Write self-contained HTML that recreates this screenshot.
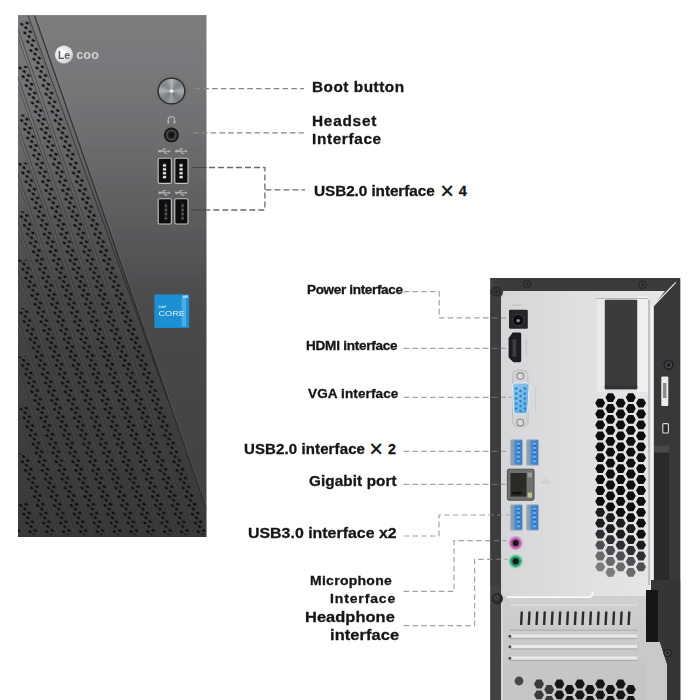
<!DOCTYPE html>
<html lang="en"><head><meta charset="utf-8"><title>Interfaces</title>
<style>
html,body{margin:0;padding:0;background:#fff;}
body{width:700px;height:700px;position:relative;overflow:hidden;font-family:"Liberation Sans","DejaVu Sans",sans-serif;}
svg{position:absolute;left:0;top:0;}
.lb{position:absolute;white-space:nowrap;font-weight:700;color:#161616;line-height:1;transform-origin:0 0;-webkit-text-stroke:0.3px #161616;}
.r{text-align:right;}
#boot{position:absolute;left:159.1px;top:78.7px;width:24.6px;height:24.6px;border-radius:50%;
 background:conic-gradient(from 0deg,#b2b5b7,#8a8d90 28deg,#7f8285 55deg,#a9acae 90deg,#84878a 125deg,#7b7e81 150deg,#9b9ea0 180deg,#7e8184 215deg,#868a8d 240deg,#aeb1b3 272deg,#84878a 305deg,#8f9295 335deg,#b2b5b7);
 box-shadow:0 0 0 1.6px #303234, 0 0 2px 2.4px rgba(98,99,101,.5);}
#boot i{position:absolute;left:10.1px;top:10.1px;width:4.4px;height:4.4px;border-radius:50%;background:radial-gradient(#f2f5f6 20%,#c9cdd0 60%,rgba(150,153,156,0) 100%);}
</style></head><body>
<svg width="700" height="700" viewBox="0 0 700 700">
<defs>
<filter id="soft" filterUnits="userSpaceOnUse" x="0" y="0" width="700" height="700"><feGaussianBlur stdDeviation="0.45" edgeMode="duplicate"/></filter>
<linearGradient id="fp" x1="0" y1="0" x2="0" y2="1">
 <stop offset="0" stop-color="#7b7c7e"/><stop offset=".12" stop-color="#77787a"/><stop offset=".26" stop-color="#6a6b6d"/><stop offset=".41" stop-color="#5a5a5c"/><stop offset=".53" stop-color="#4d4d4e"/><stop offset=".65" stop-color="#474748"/><stop offset="1" stop-color="#404041"/>
</linearGradient>
<linearGradient id="fps" x1="0" y1="0" x2="0" y2="1">
 <stop offset="0" stop-color="#000" stop-opacity="0.02"/><stop offset="1" stop-color="#000" stop-opacity="0.11"/>
</linearGradient>
<pattern id="dots0" width="16.85" height="8.75" patternUnits="userSpaceOnUse" patternTransform="matrix(1 0 0.3480 1 13.38 0)">
 <rect x="7.9" y="0" width="1.0" height="8.75" fill="#1b1b1d" fill-opacity="0.55"/>
 <rect x="8.9" y="0" width="1.9" height="8.75" fill="#fff" fill-opacity="0.060"/>
 <rect x="10.8" y="0" width="1.0" height="8.75" fill="#1b1b1d" fill-opacity="0.50"/>
 <circle cx="0.00" cy="6.85" r="1.55" fill="#0f0f10"/><circle cx="2.90" cy="1.60" r="1.55" fill="#0f0f10"/><circle cx="2.90" cy="10.35" r="1.55" fill="#0f0f10"/><circle cx="5.80" cy="5.40" r="1.55" fill="#0f0f10"/><circle cx="5.80" cy="-3.35" r="1.55" fill="#0f0f10"/><circle cx="16.85" cy="6.85" r="1.55" fill="#0f0f10"/>
</pattern>
<pattern id="dots1" width="16.85" height="8.75" patternUnits="userSpaceOnUse" patternTransform="matrix(1 0 0.3480 1 13.38 0)">
 <rect x="7.9" y="0" width="1.0" height="8.75" fill="#1b1b1d" fill-opacity="0.51"/>
 <rect x="8.9" y="0" width="1.9" height="8.75" fill="#fff" fill-opacity="0.054"/>
 <rect x="10.8" y="0" width="1.0" height="8.75" fill="#1b1b1d" fill-opacity="0.45"/>
 <circle cx="0.00" cy="6.85" r="1.55" fill="#0f0f10"/><circle cx="2.90" cy="1.60" r="1.55" fill="#0f0f10"/><circle cx="2.90" cy="10.35" r="1.55" fill="#0f0f10"/><circle cx="5.80" cy="5.40" r="1.55" fill="#0f0f10"/><circle cx="5.80" cy="-3.35" r="1.55" fill="#0f0f10"/><circle cx="16.85" cy="6.85" r="1.55" fill="#0f0f10"/>
</pattern>
<pattern id="dots2" width="16.85" height="8.75" patternUnits="userSpaceOnUse" patternTransform="matrix(1 0 0.3480 1 13.38 0)">
 <rect x="7.9" y="0" width="1.0" height="8.75" fill="#1b1b1d" fill-opacity="0.46"/>
 <rect x="8.9" y="0" width="1.9" height="8.75" fill="#fff" fill-opacity="0.048"/>
 <rect x="10.8" y="0" width="1.0" height="8.75" fill="#1b1b1d" fill-opacity="0.41"/>
 <circle cx="0.00" cy="6.85" r="1.55" fill="#0f0f10"/><circle cx="2.90" cy="1.60" r="1.55" fill="#0f0f10"/><circle cx="2.90" cy="10.35" r="1.55" fill="#0f0f10"/><circle cx="5.80" cy="5.40" r="1.55" fill="#0f0f10"/><circle cx="5.80" cy="-3.35" r="1.55" fill="#0f0f10"/><circle cx="16.85" cy="6.85" r="1.55" fill="#0f0f10"/>
</pattern>
<pattern id="dots3" width="16.85" height="8.75" patternUnits="userSpaceOnUse" patternTransform="matrix(1 0 0.3480 1 13.38 0)">
 <rect x="7.9" y="0" width="1.0" height="8.75" fill="#1b1b1d" fill-opacity="0.42"/>
 <rect x="8.9" y="0" width="1.9" height="8.75" fill="#fff" fill-opacity="0.042"/>
 <rect x="10.8" y="0" width="1.0" height="8.75" fill="#1b1b1d" fill-opacity="0.37"/>
 <circle cx="0.00" cy="6.85" r="1.55" fill="#0f0f10"/><circle cx="2.90" cy="1.60" r="1.55" fill="#0f0f10"/><circle cx="2.90" cy="10.35" r="1.55" fill="#0f0f10"/><circle cx="5.80" cy="5.40" r="1.55" fill="#0f0f10"/><circle cx="5.80" cy="-3.35" r="1.55" fill="#0f0f10"/><circle cx="16.85" cy="6.85" r="1.55" fill="#0f0f10"/>
</pattern>
<pattern id="dots4" width="16.85" height="8.75" patternUnits="userSpaceOnUse" patternTransform="matrix(1 0 0.3480 1 13.38 0)">
 <rect x="7.9" y="0" width="1.0" height="8.75" fill="#1b1b1d" fill-opacity="0.37"/>
 <rect x="8.9" y="0" width="1.9" height="8.75" fill="#fff" fill-opacity="0.036"/>
 <rect x="10.8" y="0" width="1.0" height="8.75" fill="#1b1b1d" fill-opacity="0.33"/>
 <circle cx="0.00" cy="6.85" r="1.55" fill="#0f0f10"/><circle cx="2.90" cy="1.60" r="1.55" fill="#0f0f10"/><circle cx="2.90" cy="10.35" r="1.55" fill="#0f0f10"/><circle cx="5.80" cy="5.40" r="1.55" fill="#0f0f10"/><circle cx="5.80" cy="-3.35" r="1.55" fill="#0f0f10"/><circle cx="16.85" cy="6.85" r="1.55" fill="#0f0f10"/>
</pattern>
<pattern id="dots5" width="16.85" height="8.75" patternUnits="userSpaceOnUse" patternTransform="matrix(1 0 0.3480 1 13.38 0)">
 <rect x="7.9" y="0" width="1.0" height="8.75" fill="#1b1b1d" fill-opacity="0.33"/>
 <rect x="8.9" y="0" width="1.9" height="8.75" fill="#fff" fill-opacity="0.030"/>
 <rect x="10.8" y="0" width="1.0" height="8.75" fill="#1b1b1d" fill-opacity="0.29"/>
 <circle cx="0.00" cy="6.85" r="1.55" fill="#0f0f10"/><circle cx="2.90" cy="1.60" r="1.55" fill="#0f0f10"/><circle cx="2.90" cy="10.35" r="1.55" fill="#0f0f10"/><circle cx="5.80" cy="5.40" r="1.55" fill="#0f0f10"/><circle cx="5.80" cy="-3.35" r="1.55" fill="#0f0f10"/><circle cx="16.85" cy="6.85" r="1.55" fill="#0f0f10"/>
</pattern>
<pattern id="dots6" width="16.85" height="8.75" patternUnits="userSpaceOnUse" patternTransform="matrix(1 0 0.3480 1 13.38 0)">
 <rect x="7.9" y="0" width="1.0" height="8.75" fill="#1b1b1d" fill-opacity="0.28"/>
 <rect x="8.9" y="0" width="1.9" height="8.75" fill="#fff" fill-opacity="0.024"/>
 <rect x="10.8" y="0" width="1.0" height="8.75" fill="#1b1b1d" fill-opacity="0.25"/>
 <circle cx="0.00" cy="6.85" r="1.55" fill="#0f0f10"/><circle cx="2.90" cy="1.60" r="1.55" fill="#0f0f10"/><circle cx="2.90" cy="10.35" r="1.55" fill="#0f0f10"/><circle cx="5.80" cy="5.40" r="1.55" fill="#0f0f10"/><circle cx="5.80" cy="-3.35" r="1.55" fill="#0f0f10"/><circle cx="16.85" cy="6.85" r="1.55" fill="#0f0f10"/>
</pattern>
<pattern id="dots7" width="16.85" height="8.75" patternUnits="userSpaceOnUse" patternTransform="matrix(1 0 0.3480 1 13.38 0)">
 <rect x="7.9" y="0" width="1.0" height="8.75" fill="#1b1b1d" fill-opacity="0.24"/>
 <rect x="8.9" y="0" width="1.9" height="8.75" fill="#fff" fill-opacity="0.018"/>
 <rect x="10.8" y="0" width="1.0" height="8.75" fill="#1b1b1d" fill-opacity="0.21"/>
 <circle cx="0.00" cy="6.85" r="1.55" fill="#0f0f10"/><circle cx="2.90" cy="1.60" r="1.55" fill="#0f0f10"/><circle cx="2.90" cy="10.35" r="1.55" fill="#0f0f10"/><circle cx="5.80" cy="5.40" r="1.55" fill="#0f0f10"/><circle cx="5.80" cy="-3.35" r="1.55" fill="#0f0f10"/><circle cx="16.85" cy="6.85" r="1.55" fill="#0f0f10"/>
</pattern>

<clipPath id="stripeclip"><path clip-rule="evenodd" d="M18,20.5 L28.7,20.5 L35.5,40.0 L44.2,65.0 L52.9,90.0 L61.6,115.0 L70.3,140.0 L79.0,165.0 L87.7,190.0 L96.4,215.0 L105.1,240.0 L113.8,265.0 L122.5,290.0 L131.2,315.0 L139.9,340.0 L148.6,365.0 L157.3,390.0 L166.0,415.0 L174.7,440.0 L183.4,465.0 L192.1,490.0 L198.8,509.3 L206.5,535 L18,535Z M18,38.0 L18,66.0 L27.8,66.0Z M18,86.4 L18,114.4 L27.8,114.4Z M18,134.8 L18,162.8 L27.8,162.8Z M18,183.3 L18,211.3 L27.8,211.3Z M18,231.7 L18,259.7 L27.8,259.7Z M18,280.1 L18,308.1 L27.8,308.1Z M18,328.5 L18,356.5 L27.8,356.5Z M18,376.9 L18,404.9 L27.8,404.9Z M18,425.4 L18,453.4 L27.8,453.4Z M18,473.8 L18,501.8 L27.8,501.8Z"/></clipPath><clipPath id="panelclip"><rect x="18" y="15" width="188.5" height="522"/></clipPath><clipPath id="stripeclip2"><polygon points="18,15 34.4,15.0 43.1,40.0 51.8,65.0 60.5,90.0 69.2,115.0 77.9,140.0 86.6,165.0 95.3,190.0 104.0,215.0 112.7,240.0 121.4,265.0 130.1,290.0 138.8,315.0 147.5,340.0 156.2,365.0 164.9,390.0 173.6,415.0 182.3,440.0 191.0,465.0 199.7,490.0 206.4,509.3 206.5,537 18,537"/></clipPath>
<radialGradient id="logo" cx=".4" cy=".4" r=".7"><stop offset="0" stop-color="#fff"/><stop offset=".7" stop-color="#dcdcdc"/><stop offset="1" stop-color="#b4b4b4"/></radialGradient>
<linearGradient id="plate" x1="0" y1="0" x2="1" y2="0"><stop offset="0" stop-color="#d6d6d8"/><stop offset=".5" stop-color="#e0e0e2"/><stop offset="1" stop-color="#e6e6e8"/></linearGradient>
<linearGradient id="lower" x1="0" y1="0" x2="0" y2="1"><stop offset="0" stop-color="#cfcfd1"/><stop offset="1" stop-color="#c4c4c6"/></linearGradient>
<linearGradient id="usb3" x1="0" y1="0" x2="1" y2="0"><stop offset="0" stop-color="#93a4b4"/><stop offset=".28" stop-color="#7f9db8"/><stop offset=".42" stop-color="#3f86d2"/><stop offset="1" stop-color="#3a7cc6"/></linearGradient>
<linearGradient id="vga" x1="0" y1="0" x2="1" y2="1"><stop offset="0" stop-color="#8ecaf0"/><stop offset="1" stop-color="#5ea9e0"/></linearGradient>
</defs>

<g filter="url(#soft)">
<rect x="18" y="15" width="188.5" height="522" fill="url(#fp)"/>
<rect x="18" y="15" width="188.5" height="522" fill="url(#fps)" clip-path="url(#stripeclip2)"/>
<g clip-path="url(#stripeclip)">
<rect x="18" y="15" width="188.5" height="65" fill="url(#dots0)"/>
<rect x="18" y="80" width="188.5" height="70" fill="url(#dots1)"/>
<rect x="18" y="150" width="188.5" height="70" fill="url(#dots2)"/>
<rect x="18" y="220" width="188.5" height="70" fill="url(#dots3)"/>
<rect x="18" y="290" width="188.5" height="70" fill="url(#dots4)"/>
<rect x="18" y="360" width="188.5" height="70" fill="url(#dots5)"/>
<rect x="18" y="430" width="188.5" height="70" fill="url(#dots6)"/>
<rect x="18" y="500" width="188.5" height="35" fill="url(#dots7)"/>

</g>
<path d="M27.9 15L167.9 400" fill="none" stroke="#222224" stroke-width="1.1" stroke-opacity=".6"/>
<g clip-path="url(#panelclip)">
<path d="M34.4 15.0 L43.1 40.0 L51.8 65.0 L60.5 90.0 L69.2 115.0 L77.9 140.0 L86.6 165.0 L95.3 190.0 L104.0 215.0 L112.7 240.0 L121.4 265.0 L130.1 290.0 L138.8 315.0 L147.5 340.0 L156.2 365.0 L164.9 390.0 L173.6 415.0 L182.3 440.0 L191.0 465.0 L199.7 490.0 L206.4 509.3" fill="none" stroke="#29292b" stroke-width="1.4" stroke-opacity=".8"/>
<path d="M34.4 15.0 L43.1 40.0 L51.8 65.0 L60.5 90.0 L69.2 115.0 L77.9 140.0 L86.6 165.0 L95.3 190.0 L104.0 215.0 L112.7 240.0 L121.4 265.0 L130.1 290.0 L138.8 315.0 L147.5 340.0 L156.2 365.0 L164.9 390.0 L173.6 415.0 L182.3 440.0 L191.0 465.0 L199.7 490.0 L206.4 509.3" fill="none" stroke="#fff" stroke-width="0.9" stroke-opacity=".08" transform="translate(1.4 0)"/>
</g>
<rect x="18" y="15" width="188.5" height="1" fill="#8a8b8d" fill-opacity=".5"/>
<rect x="18" y="536" width="188.5" height="1" fill="#2c2c2e" fill-opacity=".35"/>
<circle cx="64" cy="54.6" r="9.1" fill="url(#logo)"/>
<text x="58.0" y="58.6" font-family="Liberation Sans, sans-serif" font-weight="700" font-size="10.5" fill="#5c5d60" letter-spacing="-0.2">Le</text>
<text x="76.2" y="59.2" font-family="Liberation Sans, sans-serif" font-weight="700" font-size="12.8" fill="#d2d2d4" letter-spacing="0.1" textLength="22.8" lengthAdjust="spacingAndGlyphs">coo</text>
<path d="M168.2 122.4v-2.6a3.2 3.2 0 0 1 6.4 0v2.6" fill="none" stroke="#b2b3b5" stroke-width="1.1"/>
<rect x="167.4" y="120.6" width="1.8" height="3" rx=".6" fill="#b2b3b5"/><rect x="173.6" y="120.6" width="1.8" height="3" rx=".6" fill="#b2b3b5"/>
<circle cx="171.4" cy="135" r="7.6" fill="#1c1c1e"/>
<circle cx="171.4" cy="135" r="4.6" fill="#242426" stroke="#5a5a5d" stroke-width="1.2"/>
<circle cx="171.4" cy="135" r="2" fill="#0c0c0d"/>
<g stroke="#b8b9bb" stroke-width="1.1" fill="#b8b9bb" stroke-opacity=".9" fill-opacity=".9"><line x1="159.5" y1="151.2" x2="168.9" y2="151.2"/><circle cx="159.7" cy="151.2" r="1.4" stroke="none"/><path d="M161.7 151.2 l2.2 -2.3 h2 M163.5 151.2 l2.2 2.3 h1.8" fill="none"/><path d="M170.9 151.2 l-2.4 -1.5 v3z" stroke="none"/></g>
<g stroke="#b8b9bb" stroke-width="1.1" fill="#b8b9bb" stroke-opacity=".9" fill-opacity=".9"><line x1="176.2" y1="151.2" x2="185.6" y2="151.2"/><circle cx="176.4" cy="151.2" r="1.4" stroke="none"/><path d="M178.4 151.2 l2.2 -2.3 h2 M180.2 151.2 l2.2 2.3 h1.8" fill="none"/><path d="M187.6 151.2 l-2.4 -1.5 v3z" stroke="none"/></g>
<g stroke="#b8b9bb" stroke-width="1.1" fill="#b8b9bb" stroke-opacity=".9" fill-opacity=".9"><line x1="159.5" y1="192.8" x2="168.9" y2="192.8"/><circle cx="159.7" cy="192.8" r="1.4" stroke="none"/><path d="M161.7 192.8 l2.2 -2.3 h2 M163.5 192.8 l2.2 2.3 h1.8" fill="none"/><path d="M170.9 192.8 l-2.4 -1.5 v3z" stroke="none"/></g>
<g stroke="#b8b9bb" stroke-width="1.1" fill="#b8b9bb" stroke-opacity=".9" fill-opacity=".9"><line x1="176.2" y1="192.8" x2="185.6" y2="192.8"/><circle cx="176.4" cy="192.8" r="1.4" stroke="none"/><path d="M178.4 192.8 l2.2 -2.3 h2 M180.2 192.8 l2.2 2.3 h1.8" fill="none"/><path d="M187.6 192.8 l-2.4 -1.5 v3z" stroke="none"/></g>
<rect x="158.2" y="158.2" width="13.2" height="25.2" rx="1.4" fill="#0d0d0f" stroke="#c2c3c5" stroke-width="1.1"/><rect x="162.8" y="162.7" width="3.4" height="16.2" fill="#2e2e31"/><rect x="162.9" y="164.4" width="3.2" height="2.1" fill="#e8e8ea"/><rect x="162.9" y="168.3" width="3.2" height="2.1" fill="#e8e8ea"/><rect x="162.9" y="172.2" width="3.2" height="2.1" fill="#e8e8ea"/><rect x="162.9" y="176.1" width="3.2" height="2.1" fill="#e8e8ea"/>
<rect x="174.8" y="158.2" width="13.2" height="25.2" rx="1.4" fill="#0d0d0f" stroke="#c2c3c5" stroke-width="1.1"/><rect x="179.4" y="162.7" width="3.4" height="16.2" fill="#2e2e31"/><rect x="179.5" y="164.4" width="3.2" height="2.1" fill="#e8e8ea"/><rect x="179.5" y="168.3" width="3.2" height="2.1" fill="#e8e8ea"/><rect x="179.5" y="172.2" width="3.2" height="2.1" fill="#e8e8ea"/><rect x="179.5" y="176.1" width="3.2" height="2.1" fill="#e8e8ea"/>
<rect x="158.2" y="198.8" width="13.2" height="25.2" rx="1.4" fill="#0d0d0f" stroke="#c2c3c5" stroke-width="1.1"/><rect x="164.6" y="202.8" width="2.6" height="17.2" fill="#2a2a2d"/><rect x="164.6" y="205.2" width="2.6" height="1.2" fill="#6a6a6d"/><rect x="164.6" y="209.4" width="2.6" height="1.2" fill="#6a6a6d"/><rect x="164.6" y="213.6" width="2.6" height="1.2" fill="#6a6a6d"/><rect x="164.6" y="217.8" width="2.6" height="1.2" fill="#6a6a6d"/>
<rect x="174.8" y="198.8" width="13.2" height="25.2" rx="1.4" fill="#0d0d0f" stroke="#c2c3c5" stroke-width="1.1"/><rect x="181.2" y="202.8" width="2.6" height="17.2" fill="#2a2a2d"/><rect x="181.2" y="205.2" width="2.6" height="1.2" fill="#6a6a6d"/><rect x="181.2" y="209.4" width="2.6" height="1.2" fill="#6a6a6d"/><rect x="181.2" y="213.6" width="2.6" height="1.2" fill="#6a6a6d"/><rect x="181.2" y="217.8" width="2.6" height="1.2" fill="#6a6a6d"/>
<rect x="154.4" y="294.4" width="34.7" height="33.5" fill="#1b8fd2"/>
<rect x="181.6" y="296" width="4.6" height="30.5" fill="#54b4ea" fill-opacity=".8"/>
<rect x="183" y="295.4" width="5" height="2.4" fill="#bfe3f7" fill-opacity=".8"/>
<text x="158.4" y="316.0" font-family="Liberation Sans, sans-serif" font-weight="400" font-size="8" fill="#e4f3fb" textLength="26.5" lengthAdjust="spacingAndGlyphs">CORE</text>
<text x="158.6" y="308.4" font-family="Liberation Sans, sans-serif" font-weight="700" font-size="3.6" fill="#d6ecf8">intel</text>
<path d="M194.5 88.6H304" fill="none" stroke="#878787" stroke-width="1.2" stroke-dasharray="5.6 3.2"/>
<path d="M193 132.9H304" fill="none" stroke="#878787" stroke-width="1.2" stroke-dasharray="5.6 3.2"/>
<path d="M209 167.5H264.9V210H207" fill="none" stroke="#6b6b6b" stroke-width="1.3" stroke-dasharray="6 3"/>
<path d="M265.5 189.8H305" fill="none" stroke="#6b6b6b" stroke-width="1.3" stroke-dasharray="6 3"/>
<path d="M191.5 167.5H206.5M191.5 210H206.5" fill="none" stroke="#3c3c3e" stroke-width="1.2" stroke-opacity=".8"/>
<rect x="490.4" y="278" width="189.8" height="422" fill="#3e3e40"/>
<polygon points="501,291 665,291 653.5,306 653.5,700 501,700" fill="url(#plate)"/>
<polygon points="490.4,278 680.2,278 665,291 503,291" fill="#3b3b3d"/>
<polygon points="654,307 680.2,279.5 680.2,700 654,700" fill="#373739"/>
<line x1="653.2" y1="306" x2="675.8" y2="282.4" stroke="#ededed" stroke-width="1.1"/>
<rect x="651.2" y="306" width="2.4" height="280" fill="#f4f4f4"/>
<rect x="648.4" y="300" width="1.2" height="285" fill="#a9a9ab"/>
<rect x="637.5" y="296" width="10.5" height="96" fill="#f0f0f1"/>
<rect x="597" y="299" width="8" height="93" fill="#e9e9eb"/><rect x="604.8" y="299.8" width="32.4" height="89.4" rx="1" fill="#3a3b3d"/>
<rect x="604.8" y="385.5" width="32.4" height="3.7" fill="#303133"/>
<rect x="596" y="298" width="52" height="1" fill="#b5b5b7"/>
<polygon points="490.4,278 503,291 501,291 501,700 490.4,700" fill="#424244"/><circle cx="496.6" cy="291.8" r="6.6" fill="#3e3e40"/>
<circle cx="496.3" cy="291.6" r="5.0" fill="#2a2a2c"/><circle cx="496.3" cy="291.6" r="2.8" fill="none" stroke="#444446" stroke-width="1"/>
<circle cx="527.1" cy="283.9" r="4.4" fill="#2a2a2c"/><circle cx="527.1" cy="283.9" r="2.4" fill="none" stroke="#444446" stroke-width="1"/>
<circle cx="642.6" cy="284.6" r="4.4" fill="#2a2a2c"/><circle cx="642.6" cy="284.6" r="2.4" fill="none" stroke="#444446" stroke-width="1"/>
<circle cx="668.6" cy="364.8" r="5.2" fill="#242426"/><circle cx="668.6" cy="364.8" r="2.9" fill="none" stroke="#5a5a5c" stroke-width="1"/>
<rect x="661.3" y="376.5" width="7" height="29.5" rx="1" fill="#ececec"/>
<rect x="663" y="383" width="3.4" height="15" fill="#8a8a8c"/>
<rect x="662.8" y="423.6" width="5.6" height="9.4" rx="1" fill="#2a2a2c" stroke="#dcdcdc" stroke-width="1.1"/>
<rect x="654" y="445.5" width="15" height="138" fill="#2a2a2c"/>
<rect x="654" y="445.5" width="15" height="7" fill="#4a4a4c"/>
<rect x="503" y="596" width="148" height="104" fill="url(#lower)"/>
<path d="M507 597.2H589.5Q592.5 597 592.8 591.5" fill="none" stroke="#fbfbfb" stroke-width="1.8"/>
<rect x="503" y="664" width="160" height="36" fill="#c6c6c8"/>
<rect x="646" y="590" width="12" height="52" fill="#141416"/>
<polygon points="646,642 660,642 667,664 667,700 646,700" fill="#c9c9cb"/>
<polygon points="651,580 680.2,580 680.2,700 667,700 667,664 660,642 658,642 658,590 651,590" fill="#343436"/>
<circle cx="667.5" cy="653.0" r="4.0" fill="#242426"/><circle cx="667.5" cy="653.0" r="2.2" fill="none" stroke="#5a5a5c" stroke-width="1"/>
<circle cx="497.2" cy="598.6" r="5.8" fill="#2c2c2e"/><circle cx="496.6" cy="597.8" r="3" fill="#3c3c3e"/>
<polygon points="520.6,611.5 523.0,611.5 522.3,625 519.9,625" fill="#2c2c2e"/>
<polygon points="528.3,611.5 530.7,611.5 530.0,625 527.6,625" fill="#2c2c2e"/>
<polygon points="536.0,611.5 538.4,611.5 537.7,625 535.3,625" fill="#2c2c2e"/>
<polygon points="543.6,611.5 546.0,611.5 545.3,625 542.9,625" fill="#2c2c2e"/>
<polygon points="551.3,611.5 553.7,611.5 553.0,625 550.6,625" fill="#2c2c2e"/>
<polygon points="559.0,611.5 561.4,611.5 560.7,625 558.3,625" fill="#2c2c2e"/>
<polygon points="566.7,611.5 569.1,611.5 568.4,625 566.0,625" fill="#2c2c2e"/>
<polygon points="574.4,611.5 576.8,611.5 576.1,625 573.7,625" fill="#2c2c2e"/>
<polygon points="582.0,611.5 584.4,611.5 583.7,625 581.3,625" fill="#2c2c2e"/>
<polygon points="589.7,611.5 592.1,611.5 591.4,625 589.0,625" fill="#2c2c2e"/>
<polygon points="597.4,611.5 599.8,611.5 599.1,625 596.7,625" fill="#2c2c2e"/>
<polygon points="605.1,611.5 607.5,611.5 606.8,625 604.4,625" fill="#2c2c2e"/>
<polygon points="612.8,611.5 615.2,611.5 614.5,625 612.1,625" fill="#2c2c2e"/>
<polygon points="620.4,611.5 622.8,611.5 622.1,625 619.7,625" fill="#2c2c2e"/>
<polygon points="628.1,611.5 630.5,611.5 629.8,625 627.4,625" fill="#2c2c2e"/>
<rect x="510" y="604.5" width="128" height="1" fill="#e4e4e6"/>
<rect x="510" y="629.5" width="128" height="1.2" fill="#b0b0b2"/>
<rect x="510" y="634.5" width="127" height="3" fill="#e9e9eb"/>
<rect x="510" y="638.0" width="127" height="1.2" fill="#aeaeb0"/>
<rect x="508.6" y="635.0" width="2.6" height="2.6" fill="#4a4a4c"/>
<rect x="510" y="645.0" width="127" height="3" fill="#e9e9eb"/>
<rect x="510" y="648.5" width="127" height="1.2" fill="#aeaeb0"/>
<rect x="508.6" y="645.5" width="2.6" height="2.6" fill="#4a4a4c"/>
<rect x="510" y="656.5" width="127" height="3" fill="#e9e9eb"/>
<rect x="510" y="660.0" width="127" height="1.2" fill="#aeaeb0"/>
<rect x="508.6" y="657.0" width="2.6" height="2.6" fill="#4a4a4c"/>
<circle cx="519" cy="681" r="4.4" fill="#47474a"/>
<polygon points="595.2,403.1 597.7,398.7 602.7,398.7 605.2,403.1 602.7,407.5 597.7,407.5" fill="#0d0d0e"/>
<polygon points="595.2,414.0 597.7,409.6 602.7,409.6 605.2,414.0 602.7,418.4 597.7,418.4" fill="#0d0d0e"/>
<polygon points="595.2,424.9 597.7,420.5 602.7,420.5 605.2,424.9 602.7,429.3 597.7,429.3" fill="#0d0d0e"/>
<polygon points="595.2,435.9 597.7,431.5 602.7,431.5 605.2,435.9 602.7,440.3 597.7,440.3" fill="#0d0d0e"/>
<polygon points="595.2,446.8 597.7,442.4 602.7,442.4 605.2,446.8 602.7,451.2 597.7,451.2" fill="#0d0d0e"/>
<polygon points="595.2,457.7 597.7,453.3 602.7,453.3 605.2,457.7 602.7,462.1 597.7,462.1" fill="#0d0d0e"/>
<polygon points="595.2,468.6 597.7,464.2 602.7,464.2 605.2,468.6 602.7,473.0 597.7,473.0" fill="#0d0d0e"/>
<polygon points="595.2,479.5 597.7,475.1 602.7,475.1 605.2,479.5 602.7,483.9 597.7,483.9" fill="#0d0d0e"/>
<polygon points="595.2,490.5 597.7,486.1 602.7,486.1 605.2,490.5 602.7,494.9 597.7,494.9" fill="#0d0d0e"/>
<polygon points="595.2,501.4 597.7,497.0 602.7,497.0 605.2,501.4 602.7,505.8 597.7,505.8" fill="#0d0d0e"/>
<polygon points="595.2,512.3 597.7,507.9 602.7,507.9 605.2,512.3 602.7,516.7 597.7,516.7" fill="#1a1a1c"/>
<polygon points="595.2,523.2 597.7,518.8 602.7,518.8 605.2,523.2 602.7,527.6 597.7,527.6" fill="#1a1a1c"/>
<polygon points="595.2,534.1 597.7,529.7 602.7,529.7 605.2,534.1 602.7,538.5 597.7,538.5" fill="#2e2e30"/>
<polygon points="595.2,545.1 597.7,540.7 602.7,540.7 605.2,545.1 602.7,549.5 597.7,549.5" fill="#505052"/>
<polygon points="595.2,556.0 597.7,551.6 602.7,551.6 605.2,556.0 602.7,560.4 597.7,560.4" fill="#6a6a6c"/>
<polygon points="595.2,566.9 597.7,562.5 602.7,562.5 605.2,566.9 602.7,571.3 597.7,571.3" fill="#7c7c7e"/>
<polygon points="605.4,397.6 607.9,393.2 612.9,393.2 615.4,397.6 612.9,402.0 607.9,402.0" fill="#0d0d0e"/>
<polygon points="605.4,408.5 607.9,404.1 612.9,404.1 615.4,408.5 612.9,412.9 607.9,412.9" fill="#0d0d0e"/>
<polygon points="605.4,419.4 607.9,415.0 612.9,415.0 615.4,419.4 612.9,423.8 607.9,423.8" fill="#0d0d0e"/>
<polygon points="605.4,430.4 607.9,426.0 612.9,426.0 615.4,430.4 612.9,434.8 607.9,434.8" fill="#0d0d0e"/>
<polygon points="605.4,441.3 607.9,436.9 612.9,436.9 615.4,441.3 612.9,445.7 607.9,445.7" fill="#0d0d0e"/>
<polygon points="605.4,452.2 607.9,447.8 612.9,447.8 615.4,452.2 612.9,456.6 607.9,456.6" fill="#0d0d0e"/>
<polygon points="605.4,463.1 607.9,458.7 612.9,458.7 615.4,463.1 612.9,467.5 607.9,467.5" fill="#0d0d0e"/>
<polygon points="605.4,474.0 607.9,469.6 612.9,469.6 615.4,474.0 612.9,478.4 607.9,478.4" fill="#0d0d0e"/>
<polygon points="605.4,485.0 607.9,480.6 612.9,480.6 615.4,485.0 612.9,489.4 607.9,489.4" fill="#0d0d0e"/>
<polygon points="605.4,495.9 607.9,491.5 612.9,491.5 615.4,495.9 612.9,500.3 607.9,500.3" fill="#0d0d0e"/>
<polygon points="605.4,506.8 607.9,502.4 612.9,502.4 615.4,506.8 612.9,511.2 607.9,511.2" fill="#0d0d0e"/>
<polygon points="605.4,517.7 607.9,513.3 612.9,513.3 615.4,517.7 612.9,522.1 607.9,522.1" fill="#1a1a1c"/>
<polygon points="605.4,528.6 607.9,524.2 612.9,524.2 615.4,528.6 612.9,533.0 607.9,533.0" fill="#1a1a1c"/>
<polygon points="605.4,539.6 607.9,535.2 612.9,535.2 615.4,539.6 612.9,544.0 607.9,544.0" fill="#2e2e30"/>
<polygon points="605.4,550.5 607.9,546.1 612.9,546.1 615.4,550.5 612.9,554.9 607.9,554.9" fill="#505052"/>
<polygon points="605.4,561.4 607.9,557.0 612.9,557.0 615.4,561.4 612.9,565.8 607.9,565.8" fill="#6a6a6c"/>
<polygon points="605.4,572.3 607.9,567.9 612.9,567.9 615.4,572.3 612.9,576.7 607.9,576.7" fill="#7c7c7e"/>
<polygon points="615.6,403.1 618.1,398.7 623.1,398.7 625.6,403.1 623.1,407.5 618.1,407.5" fill="#0d0d0e"/>
<polygon points="615.6,414.0 618.1,409.6 623.1,409.6 625.6,414.0 623.1,418.4 618.1,418.4" fill="#0d0d0e"/>
<polygon points="615.6,424.9 618.1,420.5 623.1,420.5 625.6,424.9 623.1,429.3 618.1,429.3" fill="#0d0d0e"/>
<polygon points="615.6,435.9 618.1,431.5 623.1,431.5 625.6,435.9 623.1,440.3 618.1,440.3" fill="#0d0d0e"/>
<polygon points="615.6,446.8 618.1,442.4 623.1,442.4 625.6,446.8 623.1,451.2 618.1,451.2" fill="#0d0d0e"/>
<polygon points="615.6,457.7 618.1,453.3 623.1,453.3 625.6,457.7 623.1,462.1 618.1,462.1" fill="#0d0d0e"/>
<polygon points="615.6,468.6 618.1,464.2 623.1,464.2 625.6,468.6 623.1,473.0 618.1,473.0" fill="#0d0d0e"/>
<polygon points="615.6,479.5 618.1,475.1 623.1,475.1 625.6,479.5 623.1,483.9 618.1,483.9" fill="#0d0d0e"/>
<polygon points="615.6,490.5 618.1,486.1 623.1,486.1 625.6,490.5 623.1,494.9 618.1,494.9" fill="#0d0d0e"/>
<polygon points="615.6,501.4 618.1,497.0 623.1,497.0 625.6,501.4 623.1,505.8 618.1,505.8" fill="#0d0d0e"/>
<polygon points="615.6,512.3 618.1,507.9 623.1,507.9 625.6,512.3 623.1,516.7 618.1,516.7" fill="#0d0d0e"/>
<polygon points="615.6,523.2 618.1,518.8 623.1,518.8 625.6,523.2 623.1,527.6 618.1,527.6" fill="#1a1a1c"/>
<polygon points="615.6,534.1 618.1,529.7 623.1,529.7 625.6,534.1 623.1,538.5 618.1,538.5" fill="#1a1a1c"/>
<polygon points="615.6,545.1 618.1,540.7 623.1,540.7 625.6,545.1 623.1,549.5 618.1,549.5" fill="#2e2e30"/>
<polygon points="615.6,556.0 618.1,551.6 623.1,551.6 625.6,556.0 623.1,560.4 618.1,560.4" fill="#505052"/>
<polygon points="615.6,566.9 618.1,562.5 623.1,562.5 625.6,566.9 623.1,571.3 618.1,571.3" fill="#6a6a6c"/>
<polygon points="625.8,397.6 628.3,393.2 633.3,393.2 635.8,397.6 633.3,402.0 628.3,402.0" fill="#0d0d0e"/>
<polygon points="625.8,408.5 628.3,404.1 633.3,404.1 635.8,408.5 633.3,412.9 628.3,412.9" fill="#0d0d0e"/>
<polygon points="625.8,419.4 628.3,415.0 633.3,415.0 635.8,419.4 633.3,423.8 628.3,423.8" fill="#0d0d0e"/>
<polygon points="625.8,430.4 628.3,426.0 633.3,426.0 635.8,430.4 633.3,434.8 628.3,434.8" fill="#0d0d0e"/>
<polygon points="625.8,441.3 628.3,436.9 633.3,436.9 635.8,441.3 633.3,445.7 628.3,445.7" fill="#0d0d0e"/>
<polygon points="625.8,452.2 628.3,447.8 633.3,447.8 635.8,452.2 633.3,456.6 628.3,456.6" fill="#0d0d0e"/>
<polygon points="625.8,463.1 628.3,458.7 633.3,458.7 635.8,463.1 633.3,467.5 628.3,467.5" fill="#0d0d0e"/>
<polygon points="625.8,474.0 628.3,469.6 633.3,469.6 635.8,474.0 633.3,478.4 628.3,478.4" fill="#0d0d0e"/>
<polygon points="625.8,485.0 628.3,480.6 633.3,480.6 635.8,485.0 633.3,489.4 628.3,489.4" fill="#0d0d0e"/>
<polygon points="625.8,495.9 628.3,491.5 633.3,491.5 635.8,495.9 633.3,500.3 628.3,500.3" fill="#0d0d0e"/>
<polygon points="625.8,506.8 628.3,502.4 633.3,502.4 635.8,506.8 633.3,511.2 628.3,511.2" fill="#0d0d0e"/>
<polygon points="625.8,517.7 628.3,513.3 633.3,513.3 635.8,517.7 633.3,522.1 628.3,522.1" fill="#0d0d0e"/>
<polygon points="625.8,528.6 628.3,524.2 633.3,524.2 635.8,528.6 633.3,533.0 628.3,533.0" fill="#1a1a1c"/>
<polygon points="625.8,539.6 628.3,535.2 633.3,535.2 635.8,539.6 633.3,544.0 628.3,544.0" fill="#1a1a1c"/>
<polygon points="625.8,550.5 628.3,546.1 633.3,546.1 635.8,550.5 633.3,554.9 628.3,554.9" fill="#2e2e30"/>
<polygon points="625.8,561.4 628.3,557.0 633.3,557.0 635.8,561.4 633.3,565.8 628.3,565.8" fill="#505052"/>
<polygon points="625.8,572.3 628.3,567.9 633.3,567.9 635.8,572.3 633.3,576.7 628.3,576.7" fill="#6a6a6c"/>
<polygon points="636.0,403.1 638.5,398.7 643.5,398.7 646.0,403.1 643.5,407.5 638.5,407.5" fill="#0d0d0e"/>
<polygon points="636.0,414.0 638.5,409.6 643.5,409.6 646.0,414.0 643.5,418.4 638.5,418.4" fill="#0d0d0e"/>
<polygon points="636.0,424.9 638.5,420.5 643.5,420.5 646.0,424.9 643.5,429.3 638.5,429.3" fill="#0d0d0e"/>
<polygon points="636.0,435.9 638.5,431.5 643.5,431.5 646.0,435.9 643.5,440.3 638.5,440.3" fill="#0d0d0e"/>
<polygon points="636.0,446.8 638.5,442.4 643.5,442.4 646.0,446.8 643.5,451.2 638.5,451.2" fill="#0d0d0e"/>
<polygon points="636.0,457.7 638.5,453.3 643.5,453.3 646.0,457.7 643.5,462.1 638.5,462.1" fill="#0d0d0e"/>
<polygon points="636.0,468.6 638.5,464.2 643.5,464.2 646.0,468.6 643.5,473.0 638.5,473.0" fill="#0d0d0e"/>
<polygon points="636.0,479.5 638.5,475.1 643.5,475.1 646.0,479.5 643.5,483.9 638.5,483.9" fill="#0d0d0e"/>
<polygon points="636.0,490.5 638.5,486.1 643.5,486.1 646.0,490.5 643.5,494.9 638.5,494.9" fill="#0d0d0e"/>
<polygon points="636.0,501.4 638.5,497.0 643.5,497.0 646.0,501.4 643.5,505.8 638.5,505.8" fill="#0d0d0e"/>
<polygon points="636.0,512.3 638.5,507.9 643.5,507.9 646.0,512.3 643.5,516.7 638.5,516.7" fill="#0d0d0e"/>
<polygon points="636.0,523.2 638.5,518.8 643.5,518.8 646.0,523.2 643.5,527.6 638.5,527.6" fill="#0d0d0e"/>
<polygon points="636.0,534.1 638.5,529.7 643.5,529.7 646.0,534.1 643.5,538.5 638.5,538.5" fill="#0d0d0e"/>
<polygon points="636.0,545.1 638.5,540.7 643.5,540.7 646.0,545.1 643.5,549.5 638.5,549.5" fill="#1a1a1c"/>
<polygon points="636.0,556.0 638.5,551.6 643.5,551.6 646.0,556.0 643.5,560.4 638.5,560.4" fill="#2e2e30"/>
<polygon points="636.0,566.9 638.5,562.5 643.5,562.5 646.0,566.9 643.5,571.3 638.5,571.3" fill="#505052"/>
<polygon points="534.0,684.0 536.5,679.6 541.5,679.6 544.0,684.0 541.5,688.4 536.5,688.4" fill="#3a3a3c"/>
<polygon points="534.0,694.9 536.5,690.5 541.5,690.5 544.0,694.9 541.5,699.3 536.5,699.3" fill="#3a3a3c"/>
<polygon points="534.0,705.8 536.5,701.4 541.5,701.4 544.0,705.8 541.5,710.2 536.5,710.2" fill="#3a3a3c"/>
<polygon points="544.2,689.5 546.7,685.1 551.7,685.1 554.2,689.5 551.7,693.9 546.7,693.9" fill="#3a3a3c"/>
<polygon points="544.2,700.4 546.7,696.0 551.7,696.0 554.2,700.4 551.7,704.8 546.7,704.8" fill="#3a3a3c"/>
<polygon points="554.4,684.0 556.9,679.6 561.9,679.6 564.4,684.0 561.9,688.4 556.9,688.4" fill="#161618"/>
<polygon points="554.4,694.9 556.9,690.5 561.9,690.5 564.4,694.9 561.9,699.3 556.9,699.3" fill="#161618"/>
<polygon points="554.4,705.8 556.9,701.4 561.9,701.4 564.4,705.8 561.9,710.2 556.9,710.2" fill="#161618"/>
<polygon points="564.6,689.5 567.1,685.1 572.1,685.1 574.6,689.5 572.1,693.9 567.1,693.9" fill="#161618"/>
<polygon points="564.6,700.4 567.1,696.0 572.1,696.0 574.6,700.4 572.1,704.8 567.1,704.8" fill="#161618"/>
<polygon points="574.8,684.0 577.3,679.6 582.3,679.6 584.8,684.0 582.3,688.4 577.3,688.4" fill="#161618"/>
<polygon points="574.8,694.9 577.3,690.5 582.3,690.5 584.8,694.9 582.3,699.3 577.3,699.3" fill="#161618"/>
<polygon points="574.8,705.8 577.3,701.4 582.3,701.4 584.8,705.8 582.3,710.2 577.3,710.2" fill="#161618"/>
<polygon points="585.0,689.5 587.5,685.1 592.5,685.1 595.0,689.5 592.5,693.9 587.5,693.9" fill="#161618"/>
<polygon points="585.0,700.4 587.5,696.0 592.5,696.0 595.0,700.4 592.5,704.8 587.5,704.8" fill="#161618"/>
<polygon points="595.2,684.0 597.7,679.6 602.7,679.6 605.2,684.0 602.7,688.4 597.7,688.4" fill="#161618"/>
<polygon points="595.2,694.9 597.7,690.5 602.7,690.5 605.2,694.9 602.7,699.3 597.7,699.3" fill="#161618"/>
<polygon points="595.2,705.8 597.7,701.4 602.7,701.4 605.2,705.8 602.7,710.2 597.7,710.2" fill="#161618"/>
<polygon points="605.4,689.5 607.9,685.1 612.9,685.1 615.4,689.5 612.9,693.9 607.9,693.9" fill="#161618"/>
<polygon points="605.4,700.4 607.9,696.0 612.9,696.0 615.4,700.4 612.9,704.8 607.9,704.8" fill="#161618"/>
<polygon points="615.6,684.0 618.1,679.6 623.1,679.6 625.6,684.0 623.1,688.4 618.1,688.4" fill="#161618"/>
<polygon points="615.6,694.9 618.1,690.5 623.1,690.5 625.6,694.9 623.1,699.3 618.1,699.3" fill="#161618"/>
<polygon points="615.6,705.8 618.1,701.4 623.1,701.4 625.6,705.8 623.1,710.2 618.1,710.2" fill="#161618"/>
<polygon points="625.8,689.5 628.3,685.1 633.3,685.1 635.8,689.5 633.3,693.9 628.3,693.9" fill="#161618"/>
<polygon points="625.8,700.4 628.3,696.0 633.3,696.0 635.8,700.4 633.3,704.8 628.3,704.8" fill="#161618"/>
<rect x="509" y="309.8" width="18.8" height="19" rx="1.2" fill="#262628"/>
<circle cx="518.2" cy="320.2" r="5.8" fill="#101012" stroke="#3e3e40" stroke-width="1"/>
<circle cx="518.2" cy="320.6" r="1.6" fill="#9a9a9c"/>
<rect x="512" y="304.6" width="9" height="1" fill="#bcbcbe"/>
<path d="M512.6 332.6H519.8Q521.2 332.6 521.2 334V360.8Q521.2 362.2 519.8 362.2H513.4L508.6 357.4V338.2Z" fill="#1e1e20"/>
<rect x="512.6" y="339.5" width="3.6" height="17" fill="#3c3c3f"/>
<rect x="525.6" y="338" width="1" height="18" fill="#c6c6c8"/>
<rect x="512.6" y="370.2" width="15.4" height="56.4" rx="5" fill="#d3d4d6" stroke="#b6b7b9" stroke-width=".8"/>
<circle cx="520.3" cy="376.1" r="3.3" fill="#dcdcde" stroke="#96979b" stroke-width="1.4"/>
<circle cx="520.3" cy="422.4" r="3.3" fill="#dcdcde" stroke="#96979b" stroke-width="1.4"/>
<path d="M512.4 385.4Q512.4 383 515 383H527Q529.6 383.2 529.2 385.8L527.6 411.4Q527.4 413.9 525 413.9H516.4Q514 413.9 513.6 411.4Z" fill="url(#vga)" stroke="#e8eef2" stroke-width="1"/>
<circle cx="516.2" cy="388.6" r="1.3" fill="#2b84c6"/>
<circle cx="520.5" cy="391.1" r="1.3" fill="#2b84c6"/>
<circle cx="524.8" cy="388.6" r="1.3" fill="#2b84c6"/>
<circle cx="516.2" cy="393.6" r="1.3" fill="#2b84c6"/>
<circle cx="520.5" cy="396.1" r="1.3" fill="#2b84c6"/>
<circle cx="524.8" cy="393.6" r="1.3" fill="#2b84c6"/>
<circle cx="516.2" cy="398.6" r="1.3" fill="#2b84c6"/>
<circle cx="520.5" cy="401.1" r="1.3" fill="#2b84c6"/>
<circle cx="524.8" cy="398.6" r="1.3" fill="#2b84c6"/>
<circle cx="516.2" cy="403.6" r="1.3" fill="#2b84c6"/>
<circle cx="520.5" cy="406.1" r="1.3" fill="#2b84c6"/>
<circle cx="524.8" cy="403.6" r="1.3" fill="#2b84c6"/>
<circle cx="516.2" cy="408.6" r="1.3" fill="#2b84c6"/>
<circle cx="520.5" cy="411.1" r="1.3" fill="#2b84c6"/>
<circle cx="524.8" cy="408.6" r="1.3" fill="#2b84c6"/>
<rect x="535.2" y="386" width="1" height="26" fill="#cacacc"/>
<rect x="510.5" y="439.8" width="12" height="25.4" rx="1" fill="url(#usb3)" stroke="#aeb4ba" stroke-width="1"/><rect x="516.7" y="442.8" width="3.4" height="19.6" fill="#62aaea"/><rect x="516.7" y="445.0" width="3.4" height="1.5" fill="#2a5fa4"/><rect x="516.7" y="449.4" width="3.4" height="1.5" fill="#2a5fa4"/><rect x="516.7" y="453.8" width="3.4" height="1.5" fill="#2a5fa4"/><rect x="516.7" y="458.2" width="3.4" height="1.5" fill="#2a5fa4"/>
<rect x="526.6" y="439.8" width="12" height="25.4" rx="1" fill="url(#usb3)" stroke="#aeb4ba" stroke-width="1"/><rect x="532.8" y="442.8" width="3.4" height="19.6" fill="#62aaea"/><rect x="532.8" y="445.0" width="3.4" height="1.5" fill="#2a5fa4"/><rect x="532.8" y="449.4" width="3.4" height="1.5" fill="#2a5fa4"/><rect x="532.8" y="453.8" width="3.4" height="1.5" fill="#2a5fa4"/><rect x="532.8" y="458.2" width="3.4" height="1.5" fill="#2a5fa4"/>
<rect x="510.5" y="504.8" width="12" height="25.4" rx="1" fill="url(#usb3)" stroke="#aeb4ba" stroke-width="1"/><rect x="516.7" y="507.8" width="3.4" height="19.6" fill="#62aaea"/><rect x="516.7" y="510.0" width="3.4" height="1.5" fill="#2a5fa4"/><rect x="516.7" y="514.4" width="3.4" height="1.5" fill="#2a5fa4"/><rect x="516.7" y="518.8" width="3.4" height="1.5" fill="#2a5fa4"/><rect x="516.7" y="523.2" width="3.4" height="1.5" fill="#2a5fa4"/>
<rect x="526.6" y="504.8" width="12" height="25.4" rx="1" fill="url(#usb3)" stroke="#aeb4ba" stroke-width="1"/><rect x="532.8" y="507.8" width="3.4" height="19.6" fill="#62aaea"/><rect x="532.8" y="510.0" width="3.4" height="1.5" fill="#2a5fa4"/><rect x="532.8" y="514.4" width="3.4" height="1.5" fill="#2a5fa4"/><rect x="532.8" y="518.8" width="3.4" height="1.5" fill="#2a5fa4"/><rect x="532.8" y="523.2" width="3.4" height="1.5" fill="#2a5fa4"/>
<rect x="507.4" y="469.2" width="26.6" height="31" rx="1.5" fill="#6f706f" stroke="#4c4d4c" stroke-width="1"/>
<path d="M510.4 473H526.5V496.6H510.4Z" fill="#2b2c28"/>
<rect x="512.5" y="492" width="9" height="2.2" fill="#111"/>
<rect x="527.6" y="472.4" width="4.4" height="5" fill="#9a9c96"/>
<rect x="527.6" y="492.6" width="4.4" height="5" fill="#b9c98a"/>
<path d="M540 484l6 -6l6 6z" fill="#d0d0d2"/>
<circle cx="515.7" cy="543.1" r="7.1" fill="#d39acb"/><circle cx="515.7" cy="543.1" r="5.4" fill="#b355a4"/><circle cx="515.7" cy="543.1" r="3.1" fill="#1a1216"/>
<circle cx="515.7" cy="561.3" r="7.1" fill="#7fcfae"/><circle cx="515.7" cy="561.3" r="5.4" fill="#249966"/><circle cx="515.7" cy="561.3" r="3.1" fill="#1a1216"/>
<path d="M403.6 291.6H439.2V317.9H506" fill="none" stroke="#a4a4a4" stroke-width="1.2" stroke-dasharray="5.6 3.2"/>
<path d="M403.6 348.4H506" fill="none" stroke="#a4a4a4" stroke-width="1.2" stroke-dasharray="5.6 3.2"/>
<path d="M403.6 397.3H511" fill="none" stroke="#a4a4a4" stroke-width="1.2" stroke-dasharray="5.6 3.2"/>
<path d="M403.6 451.3H508" fill="none" stroke="#a4a4a4" stroke-width="1.2" stroke-dasharray="5.6 3.2"/>
<path d="M403.6 484.3H506" fill="none" stroke="#a4a4a4" stroke-width="1.2" stroke-dasharray="5.6 3.2"/>
<path d="M403.6 536H439V515H509" fill="none" stroke="#a4a4a4" stroke-width="1.2" stroke-dasharray="5.6 3.2"/>
<path d="M403.6 591.4H454V540.6H506.5" fill="none" stroke="#a4a4a4" stroke-width="1.2" stroke-dasharray="5.6 3.2"/>
<path d="M403.6 625.6H474.6V559.4H507" fill="none" stroke="#a4a4a4" stroke-width="1.2" stroke-dasharray="5.6 3.2"/>
<rect x="490.4" y="296" width="10.6" height="290" fill="#3b3b3d" fill-opacity=".55"/>
</g>
</svg>
<div id="boot"><i></i></div>
<div class="lb" style="left:311.9px;top:79.6px;font-size:14.5px;letter-spacing:0.47px;transform:scaleX(1.06);">Boot button</div>
<div class="lb" style="left:311.9px;top:114.3px;font-size:14.5px;letter-spacing:0.71px;transform:scaleX(1.06);">Headset</div>
<div class="lb" style="left:311.9px;top:132.3px;font-size:14.5px;letter-spacing:0.60px;transform:scaleX(1.06);">Interface</div>
<div class="lb" style="left:314.4px;top:183.9px;font-size:14.5px;letter-spacing:-0.09px;transform:scaleX(1.06);">USB2.0 interface</div>
<div class="lb" style="left:440.2px;top:180.1px;font-size:23.5px;font-weight:400;">×</div>
<div class="lb" style="left:458.7px;top:183.9px;font-size:14.5px;">4</div>
<div class="lb" style="left:306.7px;top:283.9px;font-size:12.8px;letter-spacing:-0.34px;transform:scaleX(1.06);">Power interface</div>
<div class="lb" style="left:305.8px;top:339.8px;font-size:12.8px;letter-spacing:-0.24px;transform:scaleX(1.06);">HDMI interface</div>
<div class="lb" style="left:307.7px;top:387.7px;font-size:12.8px;letter-spacing:0.09px;transform:scaleX(1.06);">VGA interface</div>
<div class="lb" style="left:243.8px;top:441.9px;font-size:14.2px;letter-spacing:0.09px;transform:scaleX(1.06);">USB2.0 interface</div>
<div class="lb" style="left:369.3px;top:437.8px;font-size:23.5px;font-weight:400;">×</div>
<div class="lb" style="left:388.0px;top:441.9px;font-size:14.2px;">2</div>
<div class="lb" style="left:309.3px;top:473.9px;font-size:14.4px;letter-spacing:0.10px;transform:scaleX(1.06);">Gigabit port</div>
<div class="lb" style="left:248.1px;top:525.3px;font-size:15.0px;letter-spacing:0.01px;transform:scaleX(1.06);">USB3.0 interface x2</div>
<div class="lb" style="left:310.3px;top:574.4px;font-size:13.2px;letter-spacing:0.27px;transform:scaleX(1.06);">Microphone</div>
<div class="lb" style="left:330.3px;top:591.5px;font-size:13.2px;letter-spacing:0.82px;transform:scaleX(1.06);">Interface</div>
<div class="lb" style="left:305.1px;top:609.3px;font-size:15.5px;letter-spacing:0.04px;transform:scaleX(1.06);">Headphone</div>
<div class="lb" style="left:329.5px;top:627.3px;font-size:15.5px;letter-spacing:0.08px;transform:scaleX(1.06);">interface</div>
</body></html>
